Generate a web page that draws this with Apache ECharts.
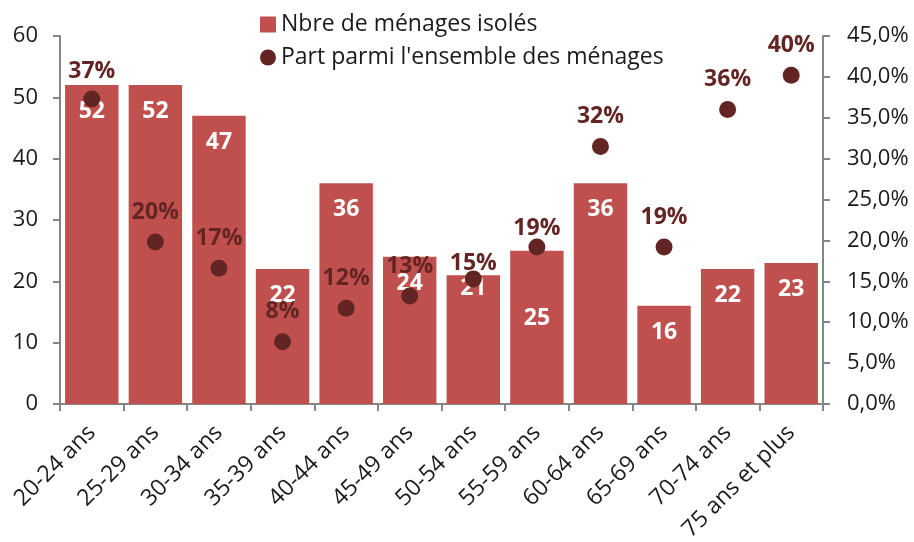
<!DOCTYPE html>
<html>
<head>
<meta charset="utf-8">
<script src="https://cdn.jsdelivr.net/npm/echarts@6/dist/echarts.min.js"></script>
<style>
  html, body { margin: 0; padding: 0; background: #fff; }
  #main { width: 914px; height: 542px; }
</style>
</head>
<body>
<div id="main"></div>
<script>
var categories = ['20-24 ans', '25-29 ans', '30-34 ans', '35-39 ans', '40-44 ans', '45-49 ans',
  '50-54 ans', '55-59 ans', '60-64 ans', '65-69 ans', '70-74 ans', '75 ans et plus'];
var menagesIsoles = [52, 52, 47, 22, 36, 24, 21, 25, 36, 16, 22, 23];
var partMenages = [37.3, 19.8, 16.6, 7.6, 11.7, 13.2, 15.3, 19.2, 31.5, 19.2, 36.0, 40.2];

var leftTicks = { min: 0, max: 60, interval: 10 };
var rightTicks = { min: 0, max: 45, interval: 5 };

// a few labels were moved by hand in the original
var barLabelShift = { 6: -13, 7: 41 };
var dotLabelShift = { 0: 2, 6: 15, 7: 11 };

var red = '#c0504d';
var dark = '#632523';
var font = '"Open Sans", "Noto Sans", sans-serif';

var chart = echarts.init(document.getElementById('main'), null, { renderer: 'canvas' });

var barData = menagesIsoles.map(function (v, i) {
  var d = { value: v };
  if (barLabelShift[i] !== undefined) {
    d.label = { offset: [0, barLabelShift[i]] };
  }
  return d;
});

var dotData = partMenages.map(function (v, i) {
  var d = { value: v };
  if (dotLabelShift[i] !== undefined) {
    d.label = { offset: [0, dotLabelShift[i]] };
  }
  return d;
});

var axisLine = { show: true, lineStyle: { color: '#868686', width: 2 } };
var tick = { show: true, length: 7, lineStyle: { color: '#868686', width: 2 } };

var option = {
  animation: false,
  textStyle: { fontFamily: font },
  legend: {
    orient: 'vertical',
    left: 255,
    top: 8,
    itemGap: 10,
    itemWidth: 16,
    itemHeight: 16,
    textStyle: { fontSize: 23, color: '#1a1a1a', fontFamily: font },
    data: [
      { name: 'Nbre de ménages isolés', icon: 'rect' },
      { name: "Part parmi l'ensemble des ménages", icon: 'circle' }
    ]
  },
  grid: { left: 60, right: 91, top: 36, bottom: 138, outerBoundsMode: 'none', containLabel: false },
  xAxis: {
    type: 'category',
    data: categories,
    axisLine: axisLine,
    axisTick: tick,
    axisLabel: { rotate: 45, fontSize: 23, color: '#1a1a1a', margin: 25, interval: 0 }
  },
  yAxis: [
    {
      type: 'value',
      min: leftTicks.min,
      max: leftTicks.max,
      interval: leftTicks.interval,
      splitLine: { show: false },
      axisLine: axisLine,
      axisTick: tick,
      axisLabel: { fontSize: 22, color: '#1a1a1a', margin: 22 }
    },
    {
      type: 'value',
      position: 'right',
      min: rightTicks.min,
      max: rightTicks.max,
      interval: rightTicks.interval,
      splitLine: { show: false },
      axisLine: axisLine,
      axisTick: tick,
      axisLabel: {
        fontSize: 22, color: '#1a1a1a', margin: 24,
        formatter: function (v) { return v.toFixed(1).replace('.', ',') + '%'; }
      }
    }
  ],
  series: [
    {
      name: 'Nbre de ménages isolés',
      type: 'bar',
      yAxisIndex: 0,
      barCategoryGap: '16%',
      itemStyle: { color: red },
      label: {
        show: true,
        position: 'insideTop',
        distance: 15,
        color: '#fff',
        fontWeight: 'bold',
        fontSize: 23,
        fontFamily: font
      },
      data: barData
    },
    {
      name: "Part parmi l'ensemble des ménages",
      type: 'scatter',
      yAxisIndex: 1,
      symbol: 'circle',
      symbolSize: 17,
      itemStyle: { color: dark, opacity: 1 },
      label: {
        show: true,
        position: 'top',
        distance: 10,
        color: dark,
        fontWeight: 'bold',
        fontSize: 23,
        fontFamily: font,
        formatter: function (p) { return Math.round(p.value) + '%'; }
      },
      z: 5,
      data: dotData
    }
  ]
};

chart.setOption(option);
</script>
</body>
</html>
